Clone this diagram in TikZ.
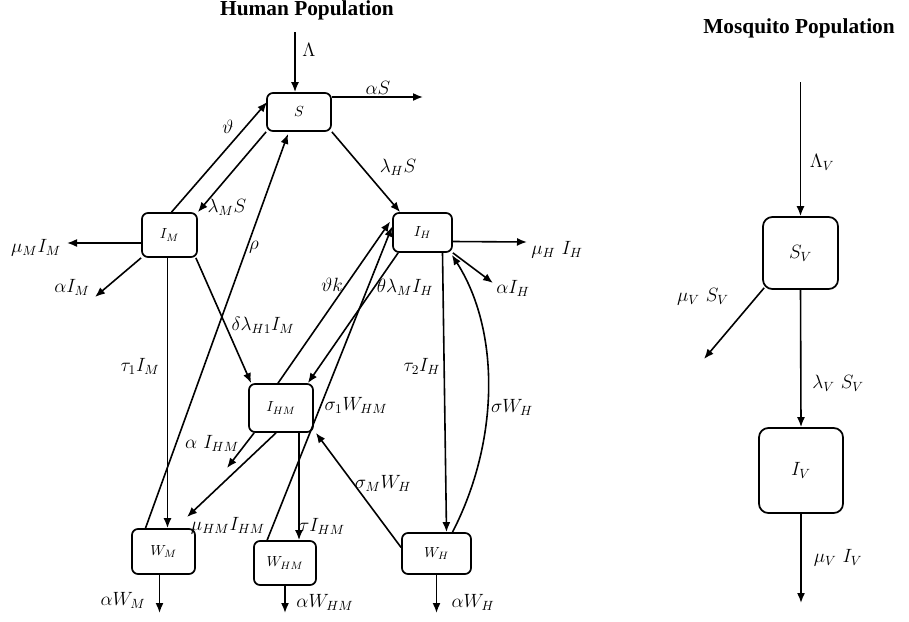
\documentclass[tikz,border=0pt]{standalone}
\usepackage{fontspec}
\newfontfamily\titlefont{Liberation Serif}
\usetikzlibrary{arrows.meta,calc}
\begin{document}
\begin{tikzpicture}[x=0.75pt,y=-0.75pt,
  box/.style={draw,rounded corners=4.5pt,line width=1.3pt,inner sep=0pt,font=\fontsize{11}{13}\selectfont},
  bigbox/.style={box,rounded corners=7pt,font=\fontsize{14.5}{17}\selectfont},
  arr/.style={line width=1.2pt,-{Latex[length=7.5pt,width=6pt]}},
  lab/.style={font=\fontsize{14}{16}\selectfont,inner sep=0pt},
  ttl/.style={font=\titlefont\bfseries\fontsize{16}{19}\selectfont,inner sep=0pt}]
\useasboundingbox (0,0) rectangle (909,621);

% titles
\node[ttl] (t1) at (307,10) {Human Population};
\node[ttl] (t2) at (799,28) {Mosquito Population};

% boxes
\node[box,minimum width=48pt,minimum height=28.5pt] (S) at (299,112) {$S$};
\node[box,minimum width=41.25pt,minimum height=33pt] (IM) at (169.5,235) {$I_M$};
\node[box,minimum width=44.25pt,minimum height=29.25pt] (IH) at (422.5,232.5) {$I_H$};
\node[box,minimum width=48pt,minimum height=36pt] (IHM) at (281,408) {$I_{HM}$};
\node[box,minimum width=47.25pt,minimum height=33.75pt] (WM) at (163.5,551.5) {$W_M$};
\node[box,minimum width=46.5pt,minimum height=33pt] (WHM) at (285,563) {$W_{HM}$};
\node[box,minimum width=51.75pt,minimum height=30.75pt] (WH) at (436.5,553.5) {$W_H$};
\node[bigbox,minimum width=56.25pt,minimum height=54pt] (SV) at (800.5,253) {$S_V$};
\node[bigbox,minimum width=63pt,minimum height=63.75pt] (IV) at (801,470.5) {$I_V$};

% free ends
\coordinate (lamtop) at (295,32);
\coordinate (aSend) at (423,97);
\coordinate (muMend) at (67,243);
\coordinate (aIMend) at (95,297);
\coordinate (aIHMend) at (227,468);
\coordinate (muHMend) at (187,517);
\coordinate (muHend) at (527,242);
\coordinate (aIHend) at (493,283);
\coordinate (aWMend) at (159.5,613);
\coordinate (aWHMend) at (285,613);
\coordinate (aWHend) at (436.5,613);
\coordinate (lamVtop) at (800.5,82);
\coordinate (muSVend) at (704,359);
\coordinate (muIVend) at (801,603);

% human connectors
\draw[arr] (lamtop) -- (lamtop |- S.north);
\draw[arr] (aSend -| S.east) -- (aSend);
\draw[arr] ($(IM.north)+(2,0)$) -- ($(S.west)+(1,-10)$);
\draw[arr] (S.south west) -- (IM.north east);
\draw[arr] ($(WM.north)+(-18,0)$) -- ($(S.south)+(-11,2)$);
\draw[arr] (S.south east) -- ($(IH.north west)+(8,0)$);
\draw[arr] ($(IM.west)+(0,8)$) -- (muMend);
\draw[arr] (IM.south west) -- (aIMend);
\coordinate (t1a) at ($(IM.south)+(-2,0)$);
\draw[arr] (t1a) -- (t1a |- WM.north);
\draw[arr] ($(IM.south east)+(-2,0)$) -- ($(IHM.north west)+(3,0)$);
\draw[arr] ($(IHM.north)+(-3,0)$) -- ($(IH.west)+(-2,-11)$);
\draw[arr] ($(IH.south west)+(6,0)$) -- ($(IHM.north east)+(-6,0)$);
\draw[arr] ($(WHM.north west)+(14,0)$) -- ($(IH.west)+(0,-6)$);
\draw[arr] ($(IHM.south west)+(6,0)$) -- (aIHMend);
\draw[arr] ($(IHM.south)+(-5,0)$) -- (muHMend);
\coordinate (ta) at ($(IHM.south)+(18,0)$);
\draw[arr] (ta) -- (ta |- WHM.north);
\draw[arr] ($(WH.west)+(0,-6)$) -- ($(IHM.south east)+(2,0)$);
\draw[arr] ($(IH.east)+(0,9)$) -- (muHend);
\draw[arr] (IH.south east) -- (aIHend);
\draw[arr] ($(IH.south)+(20,0)$) -- ($(WH.north)+(10,0)$);
\draw[arr] ($(WH.north)+(16,0)$) .. controls (500,440) and (500,330) .. ($(IH.south east)+(-1,2)$);
\draw[arr] (WM.south -| aWMend) -- (aWMend);
\draw[arr] (WHM.south) -- (aWHMend);
\draw[arr] (WH.south) -- (aWHend);

% mosquito connectors
\draw[arr] (lamVtop) -- (SV.north);
\draw[arr] ($(SV.south west)+(2,-2)$) -- (muSVend);
\draw[arr] (SV.south) -- (IV.north);
\draw[arr] (IV.south) -- (muIVend);

% labels
\node[lab] (l1) at (309,50) {$\Lambda$};
\node[lab] (l2) at (378,88) {$\alpha S$};
\node[lab] (l3) at (228,127) {$\vartheta$};
\node[lab] (l4) at (227,207) {$\lambda_M S$};
\node[lab] (l5) at (254,247) {$\rho$};
\node[lab] (l6) at (398,167) {$\lambda_H S$};
\node[lab] (l7) at (36,248) {$\mu_M I_M$};
\node[lab] (l8) at (72,287) {$\alpha I_M$};
\node[lab] (l9) at (140,366) {$\tau_1 I_M$};
\node[lab] (l10) at (263,325) {$\delta\lambda_{H1} I_M$};
\node[lab] (l11) at (332,285) {$\vartheta k$};
\node[lab] (l12) at (405,287) {$\theta\lambda_M I_H$};
\node[lab] (l13) at (356,405) {$\sigma_1 W_{HM}$};
\node[lab] (l14) at (212,443) {$\alpha\ I_{HM}$};
\node[lab] (l15) at (228,526) {$\mu_{HM} I_{HM}$};
\node[lab] (l16) at (322,526) {$\tau I_{HM}$};
\node[lab] (l17) at (383,483) {$\sigma_M W_H$};
\node[lab] (l18) at (422,366) {$\tau_2 I_H$};
\node[lab] (l19) at (512,407) {$\sigma W_H$};
\node[lab] (l20) at (557,250) {$\mu_H\ I_H$};
\node[lab] (l21) at (513,288) {$\alpha I_H$};
\node[lab] (l22) at (123,600) {$\alpha W_M$};
\node[lab] (l23) at (325,602) {$\alpha W_{HM}$};
\node[lab] (l24) at (473,602) {$\alpha W_H$};
\node[lab] (l25) at (822,162) {$\Lambda_V$};
\node[lab] (l26) at (703,297) {$\mu_V\ S_V$};
\node[lab] (l27) at (838,383) {$\lambda_V\ S_V$};
\node[lab] (l28) at (838,558) {$\mu_V\ I_V$};
\end{tikzpicture}
\end{document}
